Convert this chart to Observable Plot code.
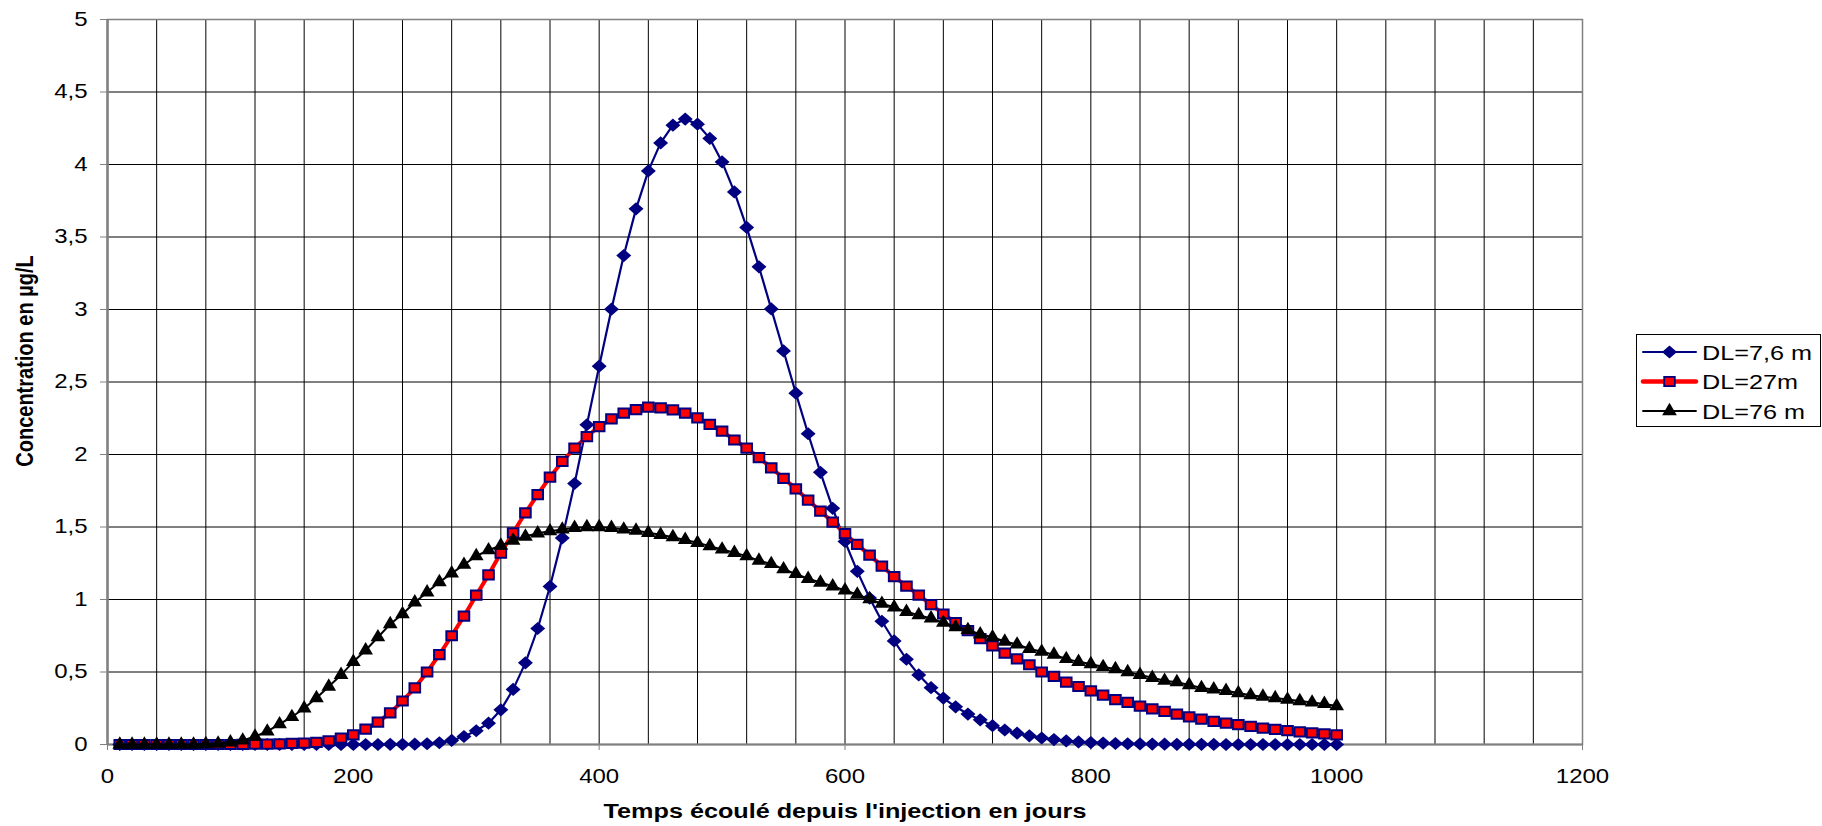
<!DOCTYPE html>
<html><head><meta charset="utf-8">
<script src="https://cdn.jsdelivr.net/npm/d3@7"></script>
<script src="https://cdn.jsdelivr.net/npm/@observablehq/plot@0.6"></script>
<style>
html,body{margin:0;padding:0;background:#fff;}
#wrap{position:relative;width:1822px;height:826px;overflow:hidden;}
</style></head><body><div id="wrap"></div>
<script>
// ---- data ----
const days = [10,20,30,40,50,60,70,80,90,100,110,120,130,140,150,160,170,180,190,200,
  210,220,230,240,250,260,270,280,290,300,310,320,330,340,350,360,370,380,390,400,
  410,420,430,440,450,460,470,480,490,500,510,520,530,540,550,560,570,580,590,600,
  610,620,630,640,650,660,670,680,690,700,710,720,730,740,750,760,770,780,790,800,
  810,820,830,840,850,860,870,880,890,900,910,920,930,940,950,960,970,980,990,1000];

const dl7 = [0,0,0,0,0,0,0,0,0,0, 0,0,0,0,0,0,0,0,0,0,
  0,0,0.001,0.001,0.002,0.005,0.012,0.028,0.055,0.095,
  0.147,0.239,0.38,0.563,0.80,1.09,1.425,1.80,2.205,2.609,
  3.002,3.372,3.694,3.956,4.149,4.271,4.313,4.278,4.18,4.018,
  3.811,3.566,3.294,3.004,2.714,2.423,2.143,1.877,1.629,1.40,
  1.194,1.01,0.85,0.714,0.588,0.48,0.392,0.32,0.26,0.21,
  0.17,0.13,0.10,0.078,0.06,0.045,0.034,0.025,0.018,0.013,
  0.01,0.007,0.005,0.004,0.003,0.002,0.0015,0.001,0.001,0.0005,
  0,0,0,0,0,0,0,0,0,0];

const dl27 = [0,0,0,0,0,0,0,0,0,0,
  0.001,0.002,0.003,0.005,0.007,0.01,0.015,0.025,0.044,0.067,
  0.106,0.154,0.218,0.30,0.39,0.50,0.62,0.75,0.885,1.03,
  1.17,1.32,1.46,1.598,1.724,1.844,1.952,2.044,2.124,2.193,
  2.246,2.285,2.31,2.326,2.322,2.308,2.285,2.253,2.207,2.161,
  2.10,2.044,1.978,1.908,1.836,1.763,1.686,1.609,1.534,1.454,
  1.38,1.306,1.231,1.157,1.093,1.03,0.965,0.90,0.84,0.785,
  0.73,0.68,0.63,0.59,0.55,0.50,0.47,0.43,0.40,0.37,
  0.34,0.31,0.29,0.265,0.245,0.228,0.21,0.19,0.175,0.16,
  0.148,0.137,0.125,0.113,0.104,0.095,0.087,0.08,0.073,0.066];

const dl76 = [0,0,0,0,0,0,0,0.003,0.007,0.015,
  0.028,0.055,0.09,0.14,0.19,0.25,0.32,0.40,0.48,0.57,
  0.65,0.74,0.83,0.90,0.98,1.05,1.12,1.18,1.24,1.30,
  1.34,1.372,1.407,1.434,1.457,1.471,1.483,1.494,1.499,1.499,
  1.494,1.483,1.476,1.46,1.446,1.43,1.411,1.391,1.368,1.345,
  1.322,1.299,1.268,1.245,1.209,1.177,1.143,1.117,1.091,1.063,
  1.034,1.003,0.971,0.946,0.915,0.892,0.87,0.84,0.81,0.79,
  0.76,0.74,0.71,0.69,0.66,0.64,0.62,0.59,0.57,0.555,
  0.535,0.52,0.50,0.48,0.46,0.44,0.43,0.41,0.39,0.38,
  0.37,0.355,0.34,0.33,0.32,0.31,0.30,0.29,0.28,0.265];

const seriesNames = ["DL=7,6 m", "DL=27m", "DL=76 m"];
const xTicks = [0, 200, 400, 600, 800, 1000, 1200];
const yTicks = [0, 0.5, 1, 1.5, 2, 2.5, 3, 3.5, 4, 4.5, 5];
const xGrid = d3.range(40, 1200, 40);
const yGrid = [0.5, 1, 1.5, 2, 2.5, 3, 3.5, 4, 4.5];
const xTitle = "Temps écoulé depuis l'injection en jours";
const yTitle = "Concentration en µg/L";

// ---- styling ----
const SX = 1.2; // horizontal stretch of the reference rendering
const FONT = "'Liberation Sans', Arial, Helvetica, sans-serif";
const NAVY = "#000080", RED = "#ff0000", BLACK = "#000000";

function mkSymbol(fn) { return {draw(ctx, size) { const k = Math.sqrt(size / Math.PI); fn(ctx, k); }}; }
const diamond = mkSymbol((c, k) => { c.moveTo(0, -0.97*k); c.lineTo(1.1*k, 0); c.lineTo(0, 0.97*k); c.lineTo(-1.1*k, 0); c.closePath(); });
const square = mkSymbol((c, k) => { const w = 0.78*k, h = 0.68*k; c.moveTo(-w, -h); c.lineTo(w, -h); c.lineTo(w, h); c.lineTo(-w, h); c.closePath(); });
const triangle = mkSymbol((c, k) => { c.moveTo(0, -1.22*k); c.lineTo(1.08*k, 0.61*k); c.lineTo(-1.08*k, 0.61*k); c.closePath(); });

const table = days.map((d, i) => ({day: d, a: dl7[i], b: dl27[i], c: dl76[i]}));

const chart = Plot.plot({
  width: 1822, height: 826,
  marginLeft: 107, marginRight: 240, marginTop: 19, marginBottom: 82,
  style: {fontFamily: FONT, fontSize: "20px", background: "white", color: "black", overflow: "visible"},
  x: {domain: [0, 1200]},
  y: {domain: [0, 5]},
  marks: [
    Plot.ruleX(xGrid, {stroke: "#000", strokeWidth: 1}),
    Plot.ruleY(yGrid, {stroke: "#000", strokeWidth: 1}),
    Plot.frame({stroke: "#808080", strokeWidth: 1.5}),
    Plot.ruleX([0], {stroke: "#808080", strokeWidth: 2.5}),
    Plot.ruleY([0], {stroke: "#808080", strokeWidth: 2}),
    Plot.axisX({ticks: xTicks, tickSize: 6, tickPadding: 18, stroke: "#808080", fill: "black",
      fontSize: 20, label: null, tickFormat: d => String(d)}),
    Plot.axisY({ticks: yTicks, tickSize: 7, tickPadding: 13, stroke: "#808080", fill: "black",
      fontSize: 20, label: null, tickFormat: d => String(d).replace(".", ",")}),
    Plot.line(table, {x: "day", y: "a", stroke: NAVY, strokeWidth: 2.2}),
    Plot.dot(table, {x: "day", y: "a", symbol: diamond, r: 6.8, fill: NAVY, stroke: "none"}),
    Plot.line(table, {x: "day", y: "b", stroke: RED, strokeWidth: 4}),
    Plot.dot(table, {x: "day", y: "b", symbol: square, r: 6.8, fill: RED, stroke: NAVY, strokeWidth: 2}),
    Plot.line(table, {x: "day", y: "c", stroke: BLACK, strokeWidth: 2}),
    Plot.dot(table, {x: "day", y: "c", symbol: triangle, r: 6.8, fill: BLACK, stroke: "none"}),
    Plot.text([yTitle], {text: d => d, frameAnchor: "left", dx: -82, dy: -21, rotate: -90,
      fontWeight: "bold", fontSize: 20, textAnchor: "middle", lineAnchor: "middle", fill: "black"}),
    Plot.text([xTitle], {text: d => d, frameAnchor: "bottom", dy: 67,
      fontWeight: "bold", fontSize: 21, textAnchor: "middle", lineAnchor: "middle", fill: "black"})
  ]
});

// emulate the horizontal stretch of the reference text
d3.select(chart).selectAll("text").each(function() {
  let t = this.getAttribute("transform") || "";
  const xa = parseFloat(this.getAttribute("x") || "0");
  if (xa) { t += ` translate(${xa},0)`; this.setAttribute("x", 0); }
  t += /rotate/.test(t) ? ` scale(1,${SX})` : ` scale(${SX},1)`;
  this.setAttribute("transform", t);
});

const wrap = document.getElementById("wrap");
wrap.appendChild(chart);

// ---- legend ----
const leg = d3.select(wrap).append("svg")
  .attr("width", 1822).attr("height", 826)
  .style("position", "absolute").style("left", "0px").style("top", "0px");
leg.append("rect").attr("x", 1636.5).attr("y", 334.5).attr("width", 184).attr("height", 92)
  .attr("fill", "white").attr("stroke", "black").attr("stroke-width", 1);
const legStyles = [
  {stroke: NAVY, width: 2, sym: diamond, fill: NAVY, sstroke: "none"},
  {stroke: RED, width: 4.5, sym: square, fill: RED, sstroke: NAVY},
  {stroke: BLACK, width: 1.8, sym: triangle, fill: BLACK, sstroke: "none"}
];
seriesNames.forEach((name, i) => {
  const st = legStyles[i];
  const y = 352 + i * 29.5;
  leg.append("line").attr("x1", 1643).attr("x2", 1696).attr("y1", y).attr("y2", y)
    .attr("stroke", st.stroke).attr("stroke-width", st.width).attr("stroke-linecap", "round");
  const p = d3.path(); st.sym.draw(p, 6.8 * 6.8 * Math.PI);
  leg.append("path").attr("d", p.toString()).attr("transform", `translate(1669.5,${y})`)
    .attr("fill", st.fill).attr("stroke", st.sstroke).attr("stroke-width", 1.8);
  leg.append("text").attr("transform", `translate(1702,${y}) scale(${SX},1)`)
    .attr("dy", "0.36em").attr("font-family", FONT).attr("font-size", 21).attr("fill", "black")
    .text(name);
});
</script></body></html>
